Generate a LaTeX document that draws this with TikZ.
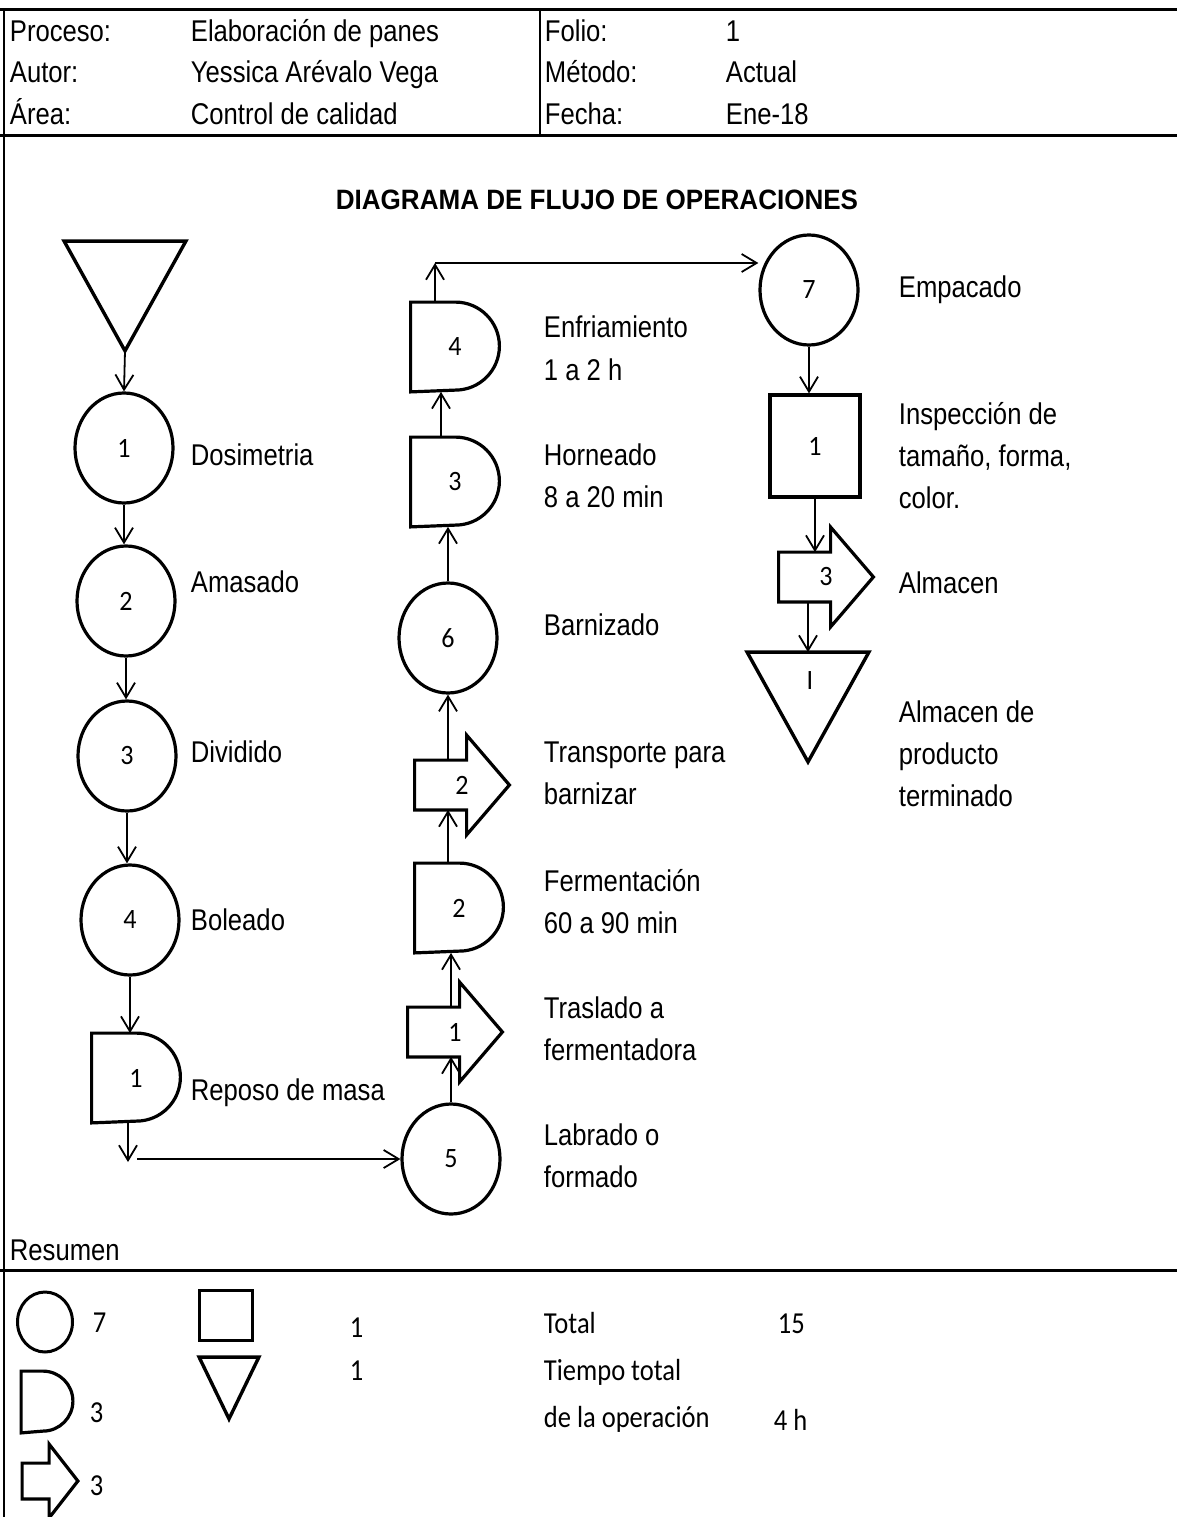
\documentclass[tikz,border=0pt]{standalone}
\usepackage{fontspec}
\setmainfont{Liberation Sans}[FakeStretch=0.855]
\newfontfamily\titlefont{Liberation Sans}[FakeStretch=0.93]
\newfontfamily\calfont{Carlito}[FakeStretch=0.93]
\newfontfamily\sumfont{Carlito}[FakeStretch=0.87]
\usetikzlibrary{arrows.meta, positioning, shapes.geometric, calc}
\newcommand{\txtsize}{\fontsize{30}{36}\selectfont}
\newcommand{\numsize}{\calfont\fontsize{28}{34}\selectfont}
\tikzset{
  every picture/.style={line width=1.8pt},
  txt/.style={anchor=base west, inner sep=0pt, font=\txtsize},
  num/.style={anchor=base west, inner sep=0pt, font=\sumfont\fontsize{30.5}{36}\selectfont},
  arr/.style={-{Straight Barb[length=15pt, width=18pt]}, line width=1.8pt},
  op/.style={ellipse, draw, line width=3.2pt, minimum width=98pt, minimum height=110pt, inner sep=0pt, font=\numsize},
  insp/.style={rectangle, draw, line width=3.2pt, minimum width=90pt, minimum height=102pt, inner sep=0pt, font=\numsize},
  dshape/.style={rectangle, inner sep=0pt, font=\numsize,
    append after command={\pgfextra{\draw[line width=3.2pt] (\tikzlastnode.north west) -- ([xshift=-#1]\tikzlastnode.north east)
      arc[start angle=90, end angle=-90, radius=#1] -- (\tikzlastnode.south west) -- cycle;}}},
  dly/.style={dshape=44pt, minimum width=87pt, minimum height=88pt},
  trshape/.style 2 args={rectangle, inner sep=0pt, font=\numsize,
    append after command={\pgfextra{\draw[line width=3.2pt] (\tikzlastnode.north west) -- ([xshift=#1]\tikzlastnode.north west)
      -- ++(0pt,#2) -- (\tikzlastnode.east) -- ([xshift=#1,yshift=-#2]\tikzlastnode.south west)
      -- ([xshift=#1]\tikzlastnode.south west) -- (\tikzlastnode.south west) -- cycle;}}},
  tr/.style={trshape={52pt}{25pt}, minimum width=93pt, minimum height=48pt},
  tri/.style={rectangle, inner sep=0pt, font=\numsize,
    append after command={\pgfextra{\draw[line width=3.4pt] (\tikzlastnode.north west) -- (\tikzlastnode.north east)
      -- (\tikzlastnode.south) -- cycle;}}},
}
\begin{document}
\begin{tikzpicture}[x=1pt, y=-1pt]
  \useasboundingbox (0,0) rectangle (1177,1517);
  % marco
  \draw[line width=3pt] (0,10) -- (1177,10);
  \draw[line width=3pt] (0,136) -- (1177,136);
  \draw[line width=2pt] (540,10) -- (540,136);
  \draw[line width=2pt] (4,10) -- (4,1517);
  \draw[line width=3pt] (0,1270) -- (1177,1270);
  \foreach \y/\ka/\va/\kb/\vb [count=\i] in {42/Proceso:/Elaboración de panes/Folio:/1,
      83/Autor:/Yessica Arévalo Vega/Método:/Actual, 125/Área:/Control de calidad/Fecha:/Ene-18} {
    \node[txt] (hka\i) at (9,\y) {\ka};
    \node[txt] (hva\i) at (190,\y) {\va};
    \node[txt] (hkb\i) at (544,\y) {\kb};
    \node[txt] (hvb\i) at (725,\y) {\vb};
  }
  \node[txt, anchor=base, font=\titlefont\bfseries\fontsize{28}{34}\selectfont] (title) at (597,210) {DIAGRAMA DE FLUJO DE OPERACIONES};

  \node[tri, minimum width=120pt, minimum height=108pt] (sto0) at (125,296) {};
  \node[op] (op1) at (124,448) {1};
  \node[op] (op2) at (126,601) {2};
  \node[op] (op3) at (127,756) {3};
  \node[op] (op4) at (130,920) {4};
  \node[dly] (del1) at (136,1078) {1};

  \node[op] (op5) at (451,1159) {5};
  \node[tr] (tr1) at (455,1032) {1};
  \node[dly] (del2) at (459,908) {2};
  \node[tr] (tr2) at (462,785) {2};
  \node[op] (op6) at (448,638) {6};
  \node[dly] (del3) at (455,482) {3};
  \node[dly] (del4) at (455,347) {4};

  \node[op] (op7) at (809,290) {7};
  \node[insp] (insp1) at (815,446) {1};
  \node[tr] (tr3) at (826,577) {3};
  \node[tri, minimum width=120pt, minimum height=108pt] (sto1) at (808,707) {};
  \node[font=\numsize, inner sep=0pt] (sto1n) at (810,681) {I};

  \draw[arr] (sto0.south) -- (op1.north);
  \draw[arr] (op1.south) -- (op1.south |- op2.north);
  \draw[arr] (op2.south) -- (op2.south |- op3.north);
  \draw[arr] (op3.south) -- (op3.south |- op4.north);
  \draw[arr] (op4.south) -- (op4.south |- del1.north);
  \coordinate (bend1) at (128,1162);
  \draw[arr] (del1.south -| bend1) -- (bend1);
  \draw[arr] ($(op5.west -| bend1)+(9pt,0pt)$) -- (op5.west);
  \draw[arr] (op5.north) -- (op5.north |- tr1.south);
  \draw[arr] (tr1.north -| op5.north) -- (del2.south -| op5.north);
  \draw[arr] (del2.north -| op6.south) -- (tr2.south -| op6.south);
  \draw[arr] (tr2.north -| op6.south) -- (op6.south);
  \draw[arr] (op6.north) -- (op6.north |- del3.south);
  \draw[arr] ([xshift=-14pt]del3.north) -- ([xshift=-14pt]del3.north |- del4.south);
  \coordinate (bend2) at (435,263);
  \draw[arr] (del4.north -| bend2) -- (bend2);
  \draw[arr] (bend2) -- (bend2 -| op7.west);
  \draw[arr] (op7.south) -- (op7.south |- insp1.north);
  \draw[arr] (insp1.south) -- (insp1.south |- tr3.north);
  \draw[arr] (tr3.south -| sto1.north) -- (sto1.north);

  \foreach \y/\lbl [count=\i] in {465/Dosimetria, 592/Amasado, 762/Dividido, 930/Boleado, 1100/Reposo de masa}
    \node[txt] (la\i) at (190,\y) {\lbl};
  \foreach \y/\lbl [count=\i] in {337/Enfriamiento, 380/1 a 2 h, 465/Horneado, 507/8 a 20 min, 635/Barnizado,
      762/Transporte para, 804/barnizar, 891/Fermentación, 933/60 a 90 min, 1018/Traslado a,
      1060/fermentadora, 1145/Labrado o, 1187/formado}
    \node[txt] (lb\i) at (543,\y) {\lbl};
  \foreach \y/\lbl [count=\i] in {297/Empacado, 424/Inspección de, 466/{tamaño, forma,}, 508/color., 593/Almacen,
      722/Almacen de, 764/producto, 806/terminado}
    \node[txt] (lc\i) at (898,\y) {\lbl};

  % resumen
  \node[txt] (res) at (9,1260) {Resumen};
  \node[op, minimum width=55pt, minimum height=60pt, line width=3pt] (sm1) at (45,1322) {};
  \node[dshape=30pt, minimum width=50pt, minimum height=60pt] (sm2) at (47,1402) {};
  \node[trshape={27pt}{19pt}, minimum width=54pt, minimum height=34pt] (sm3) at (50,1481) {};
  \node[insp, minimum width=53pt, minimum height=50pt, line width=3pt] (sm4) at (226,1315) {};
  \node[tri, minimum width=58pt, minimum height=60pt] (sm5) at (229,1388) {};
  \foreach \x/\y/\lbl [count=\i] in {92/1332/7, 89/1422/3, 89/1495/3, 349/1337/1, 349/1380/1, 543/1333/Total,
      777/1333/15, 543/1380/Tiempo total, 543/1427/de la operación, 773/1430/4 h}
    \node[num] (sn\i) at (\x,\y) {\lbl};
\end{tikzpicture}
\end{document}
